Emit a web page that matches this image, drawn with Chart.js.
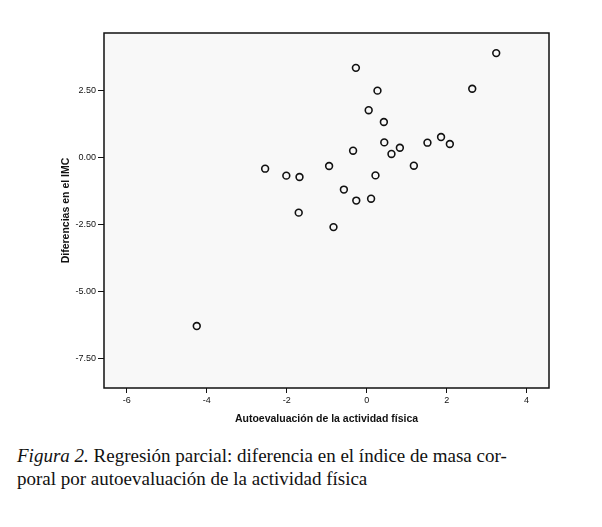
<!DOCTYPE html>
<html>
<head>
<meta charset="utf-8">
<script src="https://cdn.jsdelivr.net/npm/chart.js@4/dist/chart.umd.min.js"></script>
<style>
  html, body { margin: 0; padding: 0; background: #fff; }
  #wrap { position: relative; width: 602px; height: 527px; }
  #chartBox { position: absolute; left: 0; top: 0; width: 602px; height: 425px; }
  #caption {
    position: absolute; left: 17px; top: 444px;
    font-family: "Liberation Serif", "Times New Roman", serif;
    font-size: 19px; line-height: 23px; color: #111;
  }
</style>
</head>
<body>
<div id="wrap">
  <div id="chartBox"><canvas id="chart"></canvas></div>
  <div id="caption"><i>Figura 2.</i> Regresión parcial: diferencia en el índice de masa cor-<br>poral por autoevaluación de la actividad física</div>
</div>
<script>
// Partial regression: physical activity self-assessment vs BMI difference
const actividad = [3.24, -0.27, 0.27, 2.64, 0.05, 0.43, 0.44, 1.52, 1.86, 2.08,
                   0.83, 0.62, -0.34, 1.18, -0.94, -2.54, -2.01, -1.68, 0.22, -0.57,
                   -0.26, 0.11, -1.70, -0.83, -4.25];
const difIMC    = [3.90, 3.35, 2.50, 2.57, 1.77, 1.33, 0.57, 0.56, 0.77, 0.51,
                   0.37, 0.14, 0.26, -0.30, -0.31, -0.41, -0.67, -0.72, -0.66, -1.19,
                   -1.60, -1.53, -2.05, -2.59, -6.28];
const xTickValues = [-6, -4, -2, 0, 2, 4];
const yTickValues = [-7.5, -5, -2.5, 0, 2.5];

const points = actividad.map((x, i) => ({x: x, y: difIMC[i]}));

// plot background + box frame
const framePlugin = {
    id: 'frame',
    beforeDatasetsDraw(chart) {
        const a = chart.chartArea, ctx = chart.ctx;
        ctx.save();
        ctx.strokeStyle = '#111';
        ctx.lineWidth = 1.5;
        ctx.strokeRect(a.left, a.top, a.right - a.left, a.bottom - a.top);
        ctx.restore();
    },
    beforeDraw(chart) {
        const a = chart.chartArea, ctx = chart.ctx;
        ctx.save();
        ctx.fillStyle = '#f8f8f8';
        ctx.fillRect(a.left, a.top, a.right - a.left, a.bottom - a.top);
        ctx.restore();
    }
};

const tickFont = {family: '"Liberation Sans", Arial, sans-serif', size: 9};
const titleFont = {family: '"Liberation Sans", Arial, sans-serif', size: 10.5, weight: 'bold'};

new Chart(document.getElementById('chart'), {
    type: 'scatter',
    data: {
        datasets: [{
            data: points,
            pointRadius: 3.4,
            pointBorderWidth: 1.6,
            pointBackgroundColor: 'rgba(0,0,0,0)',
            pointBorderColor: '#111'
        }]
    },
    options: {
        responsive: true,
        maintainAspectRatio: false,
        animation: false,
        layout: { padding: {left: 55, right: 53, top: 33, bottom: 0} },
        plugins: { legend: {display: false}, tooltip: {enabled: false} },
        scales: {
            x: {
                type: 'linear',
                min: -6.57, max: 4.56,
                afterBuildTicks: s => { s.ticks = xTickValues.map(v => ({value: v})); },
                afterFit: s => { s.height = 37; },
                grid: { drawOnChartArea: false, drawTicks: true, tickLength: 5, color: '#111', lineWidth: 1 },
                border: { display: false },
                ticks: { font: tickFont, color: '#111', padding: 2, maxRotation: 0,
                         callback: v => String(v) },
                title: { display: true, text: 'Autoevaluación de la actividad física',
                         font: titleFont, color: '#111', padding: {top: 4, bottom: 0} }
            },
            y: {
                type: 'linear',
                min: -8.59, max: 4.65,
                afterBuildTicks: s => { s.ticks = yTickValues.map(v => ({value: v})); },
                afterFit: s => { s.width = 49; },
                grid: { drawOnChartArea: false, drawTicks: true, tickLength: 6, color: '#111', lineWidth: 1 },
                border: { display: false },
                ticks: { font: tickFont, color: '#111', padding: 2,
                         callback: v => Number(v).toFixed(2) },
                title: { display: true, text: 'Diferencias en el IMC',
                         font: titleFont, color: '#111', padding: {top: 5, bottom: 0} }
            }
        }
    },
    plugins: [framePlugin]
});
</script>
</body>
</html>
